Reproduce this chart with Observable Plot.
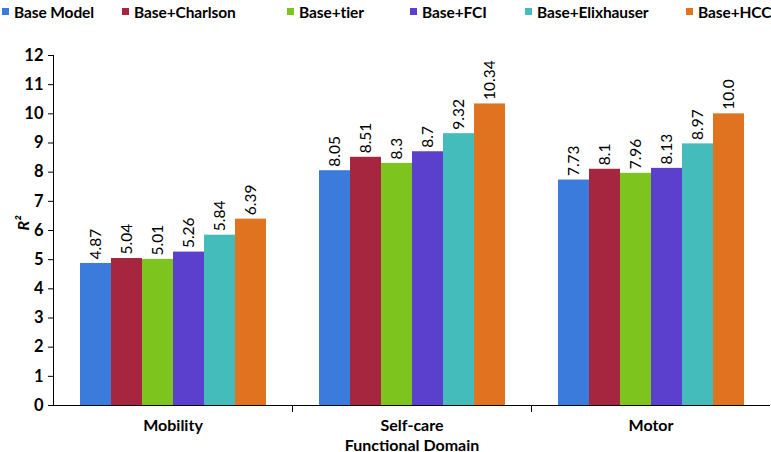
<!DOCTYPE html>
<html>
<head>
<meta charset="utf-8">
<script src="https://cdn.jsdelivr.net/npm/d3@7"></script>
<script src="https://cdn.jsdelivr.net/npm/@observablehq/plot@0.6"></script>
<style>
  html, body { margin: 0; padding: 0; background: #fff; }
  body { width: 771px; height: 452px; overflow: hidden; font-family: Lato, sans-serif; }
  #legend { position: relative; height: 25px; }
  .item { position: absolute; top: 2px; font-weight: bold; font-size: 15.5px; color: #000; white-space: nowrap; line-height: 20px; letter-spacing: -0.1px; }
  .sw { display: inline-block; width: 7px; height: 7px; margin-right: 5px; vertical-align: 3px; }
</style>
</head>
<body>
<div id="legend"></div>
<div id="chart"></div>
<script>
// ---- data ----
const domains = ["Mobility", "Self-care", "Motor"];
const models = ["Base Model", "Base+Charlson", "Base+tier", "Base+FCI", "Base+Elixhauser", "Base+HCC"];
const colors = ["#3b7bdc", "#a6263f", "#7dc41f", "#5a40cc", "#44bcbc", "#e0731f"];
const mobility = [4.87, 5.04, 5.01, 5.26, 5.84, 6.39];
const selfCare = [8.05, 8.51, 8.3, 8.7, 9.32, 10.34];
const motor = [7.73, 8.1, 7.96, 8.13, 8.97, 10.0];
const mobilityLabels = ["4.87", "5.04", "5.01", "5.26", "5.84", "6.39"];
const selfCareLabels = ["8.05", "8.51", "8.3", "8.7", "9.32", "10.34"];
const motorLabels = ["7.73", "8.1", "7.96", "8.13", "8.97", "10.0"];
const yTicks = [0, 1, 2, 3, 4, 5, 6, 7, 8, 9, 10, 11, 12];

// ---- table ----
const series = [mobility, selfCare, motor];
const labels = [mobilityLabels, selfCareLabels, motorLabels];
const rows = [];
domains.forEach((dom, i) => models.forEach((m, j) => rows.push({domain: dom, model: m, value: series[i][j], label: labels[i][j]})));

// ---- legend (layout only) ----
const legendLeft = [2, 122, 287, 410, 525, 686];
const legend = document.getElementById("legend");
models.forEach((m, i) => {
  const it = document.createElement("div");
  it.className = "item";
  it.style.left = legendLeft[i] + "px";
  it.innerHTML = `<span class="sw" style="background:${colors[i]}"></span>${m}`;
  legend.appendChild(it);
});

const tickShape = {draw(ctx, l) { ctx.moveTo(0, 0); ctx.lineTo(0, -l); }};

const chart = Plot.plot({
  width: 771,
  height: 427,
  marginLeft: 52,
  marginRight: 0,
  marginTop: 30,
  marginBottom: 47,
  style: {fontFamily: "Lato, sans-serif", fontSize: "15px", color: "#000", background: "#fff"},
  fx: {domain: domains, padding: 0},
  x: {domain: models, paddingInner: 0, paddingOuter: 0.75, axis: null},
  y: {domain: [0, 12]},
  color: {domain: models, range: colors},
  marks: [
    Plot.barY(rows, {fx: "domain", x: "model", y: "value", fill: "model", inset: 0}),
    Plot.text(rows, {fx: "domain", x: "model", y: "value", text: "label", rotate: -90, textAnchor: "start", dy: -4, fontSize: 15.5, fill: "#000"}),
    Plot.ruleY([0], {stroke: "#000", strokeWidth: 1}),
    Plot.frame({anchor: "left", facet: "super", stroke: "#000"}),
    Plot.vector(domains.slice(0, 2), {fx: d => d, frameAnchor: "bottom-right", rotate: 180, length: 6, anchor: "start", shape: tickShape, stroke: "#000", strokeWidth: 1}),
    Plot.axisY({ticks: yTicks, tickSize: 5, tickPadding: 5, fontWeight: "bold", fontSize: 16.5, label: null, stroke: "#000"}),
    Plot.axisFx({anchor: "bottom", tickSize: 0, tickPadding: 14, fontWeight: "bold", fontSize: 16, label: null}),
    Plot.text(["Functional Domain"], {frameAnchor: "bottom", dy: 45, facet: "super", fontWeight: "bold", fontSize: 16, fill: "#000"}),
    Plot.text(["R²"], {frameAnchor: "left", dx: -30, rotate: -90, facet: "super", fontStyle: "italic", fontWeight: "bold", fontSize: 16, fill: "#000"})
  ]
});
document.getElementById("chart").appendChild(chart);
</script>
</body>
</html>
